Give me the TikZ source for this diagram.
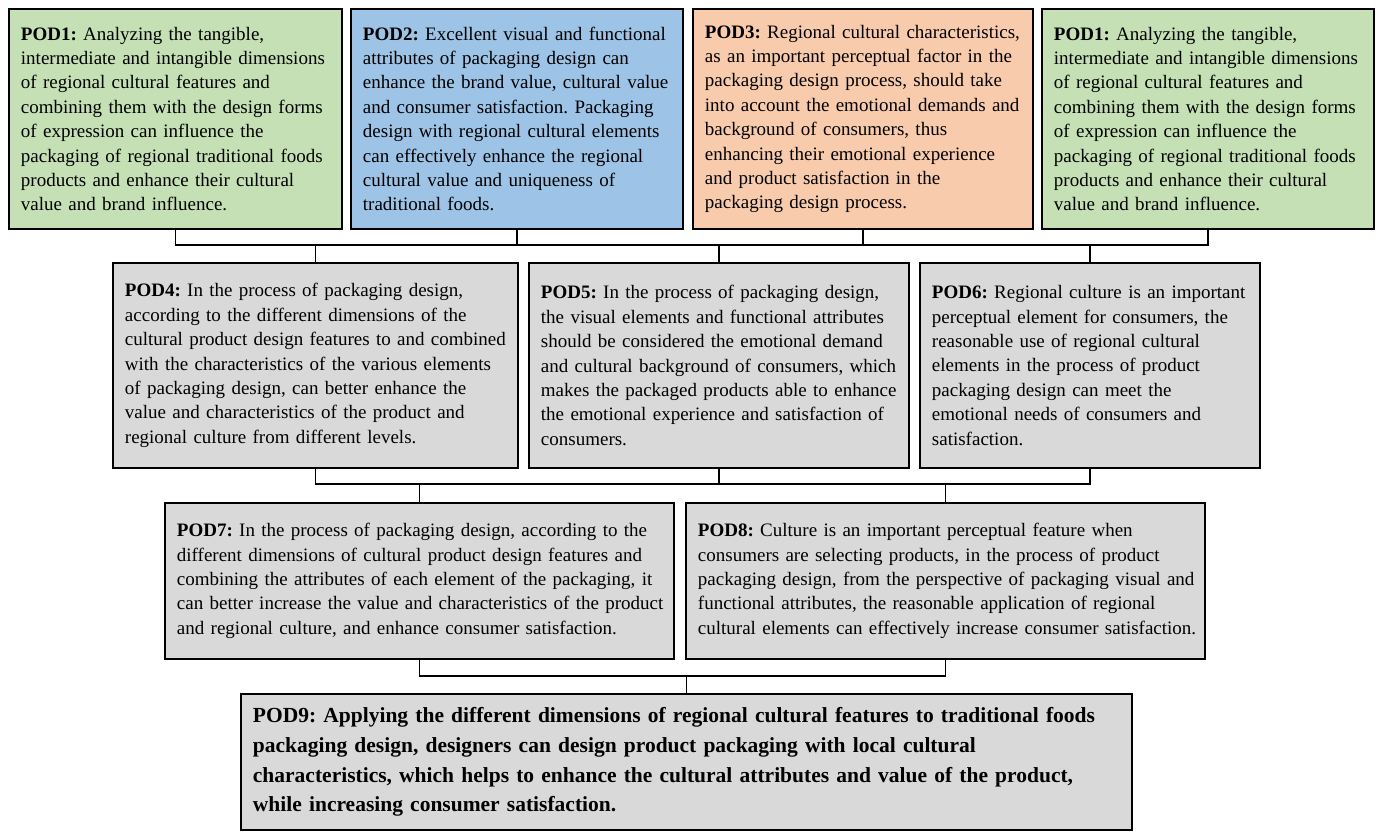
\documentclass[tikz,border=0pt]{standalone}
\usepackage{fontspec}
\setmainfont{Liberation Serif}
\frenchspacing
\newcommand\Ln[1]{\mbox{#1}}
\definecolor{cgreen}{HTML}{C5E0B4}
\definecolor{cblue}{HTML}{9DC3E6}
\definecolor{corange}{HTML}{F8CBAD}
\definecolor{cgray}{HTML}{D9D9D9}
\tikzset{
  podbox/.style={draw=black, line width=1.9pt, inner xsep=12pt, inner ysep=0pt,
    align=left, anchor=north west, font=\fontsize{19}{24.4}\selectfont\frenchspacing},
  conn/.style={draw=black, line width=1.9pt},
}
\begin{document}
\begin{tikzpicture}[x=1pt,y=-1pt]
\useasboundingbox[fill=white] (0,0) rectangle (1379,832);
% top row
\node[podbox, fill=cgreen, text width=309pt, minimum height=220pt] (p1) at (8,8) {%
\Ln{\textbf{POD1:} Analyzing the tangible,}\\
\Ln{intermediate and intangible dimensions}\\
\Ln{of regional cultural features and}\\
\Ln{combining them with the design forms}\\
\Ln{of expression can influence the}\\
\Ln{packaging of regional traditional foods}\\
\Ln{products and enhance their cultural}\\
\Ln{value and brand influence.}};
\node[podbox, fill=cblue, text width=308pt, minimum height=220pt] (p2) at (350,8) {%
\Ln{\textbf{POD2:} Excellent visual and functional}\\
\Ln{attributes of packaging design can}\\
\Ln{enhance the brand value, cultural value}\\
\Ln{and consumer satisfaction. Packaging}\\
\Ln{design with regional cultural elements}\\
\Ln{can effectively enhance the regional}\\
\Ln{cultural value and uniqueness of}\\
\Ln{traditional foods.}};
\node[podbox, fill=corange, text width=316pt, minimum height=220pt] (p3) at (692,8) {%
\Ln{\textbf{POD3:} Regional cultural characteristics,}\\
\Ln{as an important perceptual factor in the}\\
\Ln{packaging design process, should take}\\
\Ln{into account the emotional demands and}\\
\Ln{background of consumers, thus}\\
\Ln{enhancing their emotional experience}\\
\Ln{and product satisfaction in the}\\
\Ln{packaging design process.}};
\node[podbox, fill=cgreen, text width=308pt, minimum height=220pt] (p1b) at (1041,8) {%
\Ln{\textbf{POD1:} Analyzing the tangible,}\\
\Ln{intermediate and intangible dimensions}\\
\Ln{of regional cultural features and}\\
\Ln{combining them with the design forms}\\
\Ln{of expression can influence the}\\
\Ln{packaging of regional traditional foods}\\
\Ln{products and enhance their cultural}\\
\Ln{value and brand influence.}};
% second row
\node[podbox, fill=cgray, text width=381pt, minimum height=205pt] (p4) at (112,262) {%
\Ln{\textbf{POD4:} In the process of packaging design,}\\
\Ln{according to the different dimensions of the}\\
\Ln{cultural product design features to and combined}\\
\Ln{with the characteristics of the various elements}\\
\Ln{of packaging design, can better enhance the}\\
\Ln{value and characteristics of the product and}\\
\Ln{regional culture from different levels.}};
\node[podbox, fill=cgray, text width=356pt, minimum height=205pt] (p5) at (528,262) {%
\Ln{\textbf{POD5:} In the process of packaging design,}\\
\Ln{the visual elements and functional attributes}\\
\Ln{should be considered the emotional demand}\\
\Ln{and cultural background of consumers, which}\\
\Ln{makes the packaged products able to enhance}\\
\Ln{the emotional experience and satisfaction of}\\
\Ln{consumers.}};
\node[podbox, fill=cgray, text width=316pt, minimum height=205pt] (p6) at (919,262) {%
\Ln{\textbf{POD6:} Regional culture is an important}\\
\Ln{perceptual element for consumers, the}\\
\Ln{reasonable use of regional cultural}\\
\Ln{elements in the process of product}\\
\Ln{packaging design can meet the}\\
\Ln{emotional needs of consumers and}\\
\Ln{satisfaction.}};
% third row
\node[podbox, fill=cgray, text width=485pt, minimum height=156pt] (p7) at (164,502) {%
\Ln{\textbf{POD7:} In the process of packaging design, according to the}\\
\Ln{different dimensions of cultural product design features and}\\
\Ln{combining the attributes of each element of the packaging, it}\\
\Ln{can better increase the value and characteristics of the product}\\
\Ln{and regional culture, and enhance consumer satisfaction.}};
\node[podbox, fill=cgray, text width=495pt, minimum height=156pt] (p8) at (685,502) {%
\Ln{\textbf{POD8:} Culture is an important perceptual feature when}\\
\Ln{consumers are selecting products, in the process of product}\\
\Ln{packaging design, from the perspective of packaging visual and}\\
\Ln{functional attributes, the reasonable application of regional}\\
\Ln{cultural elements can effectively increase consumer satisfaction.}};
% bottom
\node[podbox, fill=cgray, text width=867pt, minimum height=136pt,
  font=\fontsize{21.5}{29.7}\selectfont\bfseries\frenchspacing] (p9) at (240,693) {%
\Ln{POD9: Applying the different dimensions of regional cultural features to traditional foods}\\
\Ln{packaging design, designers can design product packaging with local cultural}\\
\Ln{characteristics, which helps to enhance the cultural attributes and value of the product,}\\
\Ln{while increasing consumer satisfaction.}};
% connector levels
\coordinate (b1) at (0,245);
\coordinate (b2) at (0,484);
\coordinate (b3) at (0,676);
% top bus
\draw[conn] (p1.south) -- (p1.south|-b1) -- (p1b.south|-b1) -- (p1b.south);
\draw[conn] (p2.south) -- (p2.south|-b1);
\draw[conn] (p3.south) -- (p3.south|-b1);
\draw[conn] (p4.north|-b1) -- (p4.north);
\draw[conn] (p5.north|-b1) -- (p5.north);
\draw[conn] (p6.north|-b1) -- (p6.north);
% second bus
\draw[conn] (p4.south) -- (p4.south|-b2) -- (p6.south|-b2) -- (p6.south);
\draw[conn] (p5.south) -- (p5.south|-b2);
\draw[conn] (p7.north|-b2) -- (p7.north);
\draw[conn] (p8.north|-b2) -- (p8.north);
% third bus
\draw[conn] (p7.south) -- (p7.south|-b3) -- (p8.south|-b3) -- (p8.south);
\draw[conn] (p9.north|-b3) -- (p9.north);
\end{tikzpicture}
\end{document}
